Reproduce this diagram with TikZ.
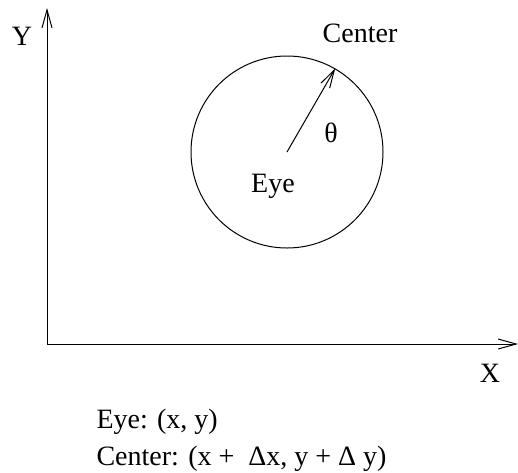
\documentclass[tikz,border=0pt]{standalone}
\usepackage{fontspec}
\setmainfont{Liberation Serif}
\usetikzlibrary{arrows.meta}
\begin{document}
\begin{tikzpicture}[x=1pt, y=-1pt, line width=1pt,
  lbl/.style={inner sep=0pt, anchor=base, font=\fontsize{28}{34}\selectfont},
  note/.style={inner sep=0pt, anchor=base west, font=\fontsize{28}{34}\selectfont},
  barb/.style={-{Straight Barb[length=18pt, width=10pt, line width=1pt]}}]
\useasboundingbox (0,0) rectangle (518,472);
\coordinate (origin) at (47,344);
\coordinate (ytip) at (47,8);
\coordinate (xtip) at (518,344);
\node[draw, circle, inner sep=0pt, minimum size=192pt] (view) at (287,152) {};
\node[lbl] (ylabel) at (22,45) {Y};
\node[lbl] (xlabel) at (490,382) {X};
\node[lbl] (center) at (360,42) {Center};
\node[lbl] (theta) at (331,142) {θ};
\node[lbl] (eye) at (273,192) {Eye};
\node[note] (eyepos) at (96,428) {Eye: (x, y)};
\node[note] (centerpos) at (96,465) {Center: (x +\ \ Δx, y + Δ y)};
\draw[barb] (origin) -- (ytip);
\draw[barb] (origin) -- (xtip);
\draw[barb] (view.center) -- (view.60);
\end{tikzpicture}
\end{document}
